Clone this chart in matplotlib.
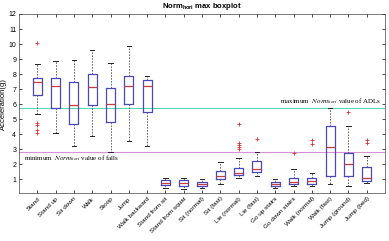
import matplotlib
matplotlib.use('Agg')
import matplotlib.pyplot as plt
import numpy as np

plt.rcParams['font.family'] = ['Liberation Sans', 'DejaVu Sans']
plt.rcParams['mathtext.fontset'] = 'stix'

activities = ['Stand', 'Stand up', 'Sit down', 'Walk', 'Stoop', 'Jump', 'Walk backward',
              'Stand from sit', 'Stand from squat', 'Sit (normal)', 'Sit (fast)',
              'Lie (normal)', 'Lie (fast)', 'Go up stairs', 'Go down stairs',
              'Walk (normal)', 'Walk (fast)', 'Jump (ground)', 'Jump (bed)']

# box stats
whisker_low = [5.35, 4.05, 3.25, 3.9, 2.84, 3.55, 3.2, 0.4, 0.38, 0.4, 0.69,
               1.12, 1.2, 0.42, 0.56, 0.54, 0.68, 0.58, 0.75]
q1 = [6.6, 5.75, 4.7, 5.95, 4.8, 6.02, 5.5, 0.6, 0.54, 0.54, 1.0,
      1.3, 1.48, 0.56, 0.71, 0.68, 1.22, 1.25, 0.87]
med = [7.48, 7.2, 5.95, 7.15, 6.02, 7.22, 7.22, 0.78, 0.74, 0.69, 1.25,
       1.45, 1.7, 0.71, 0.8, 0.88, 3.12, 2.03, 1.08]
q3 = [7.75, 7.75, 7.48, 8.02, 7.1, 7.9, 7.58, 0.95, 0.98, 0.84, 1.57,
      1.75, 2.23, 0.84, 1.12, 1.1, 4.52, 2.72, 1.8]
whisker_high = [8.65, 8.85, 8.95, 9.58, 8.72, 9.88, 7.88, 1.08, 1.11, 1.0, 2.15,
                2.45, 2.83, 1.0, 1.72, 1.4, 5.77, 4.55, 2.58]
outliers = [[10.05, 4.75, 4.6, 4.3, 4.05], [], [], [], [], [], [], [], [], [], [],
            [4.7, 3.45, 3.3, 3.15, 3.02], [3.7], [], [2.78], [3.62, 3.35], [],
            [5.45], [3.62, 3.42]]

adl_max = 5.77
fall_min = 2.84

stats = []
for i, name in enumerate(activities):
    stats.append({'label': name, 'whislo': whisker_low[i], 'q1': q1[i], 'med': med[i],
                  'q3': q3[i], 'whishi': whisker_high[i], 'fliers': outliers[i]})

fig = plt.figure(figsize=(3.89, 2.41), dpi=100)
ax = fig.add_axes([19 / 389, 1 - 193.3 / 241, 366 / 389, 179.3 / 241])

ax.axhline(adl_max, color='#5ad6b4', lw=0.8, zorder=1)
ax.axhline(fall_min, color='#d890d8', lw=0.8, zorder=1)

pos = np.arange(1, len(activities) + 1)
ax.bxp(stats, positions=pos, widths=0.5, patch_artist=False,
       boxprops=dict(color='#4848c0', lw=0.9),
       medianprops=dict(color='#c83c3c', lw=0.9),
       whiskerprops=dict(color='#555555', lw=0.6, ls=(0, (2, 1.5))),
       capprops=dict(color='#222222', lw=0.7),
       flierprops=dict(marker='+', markeredgecolor='#e03030', markersize=2.5, mew=0.6),
       capwidths=0.25)

ax.set_xlim(0, 20)
ax.set_ylim(0.07, 12)
ax.set_yticks(range(1, 13))
ax.set_xticks(pos)
ax.set_xticklabels(activities, rotation=45, ha='right', rotation_mode='anchor', fontsize=4.6)
ax.tick_params(axis='y', labelsize=5, length=2, width=0.5, right=True, direction='in', pad=2)
ax.tick_params(axis='x', length=2, width=0.5, top=True, direction='in', pad=2)
for s in ax.spines.values():
    s.set_linewidth(0.5)
    s.set_color('#444444')

ax.set_ylabel('Acceleration(g)', fontsize=5.5, labelpad=1)
ax.set_title('Norm$_{\\mathregular{hori}}$ max boxplot', fontsize=5.5, fontweight='bold', pad=4)

ax.text(19.8, adl_max + 0.08, 'maximum  $\\mathit{Norm}_{hori}$ value of ADLs',
        family='Liberation Serif', fontsize=5, ha='right', va='bottom')
ax.text(0.25, fall_min - 0.12, 'minimum  $\\mathit{Norm}_{hori}$ value of falls',
        family='Liberation Serif', fontsize=5, ha='left', va='top')

plt.savefig('out.png', dpi=100)
